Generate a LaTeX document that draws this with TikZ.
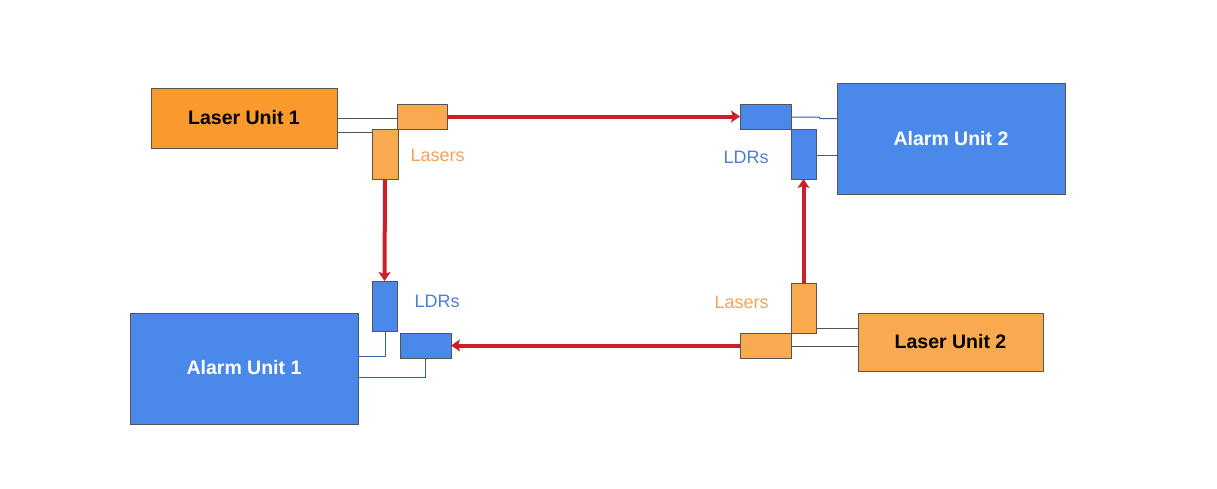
\documentclass[tikz,border=0pt]{standalone}
\usepackage{fontspec}
\setmainfont{Liberation Sans}
\usetikzlibrary{arrows.meta}
\definecolor{bluefill}{HTML}{4A89EA}
\definecolor{unitorange}{HTML}{FB9A2C}
\definecolor{lightorange}{HTML}{F9AA4E}
\definecolor{edgegray}{HTML}{555555}
\definecolor{beamred}{HTML}{CC1F2A}
\definecolor{ldrtext}{HTML}{4A7FD0}
\definecolor{lasertext}{HTML}{F4A25A}
\tikzset{
  box/.style={draw=edgegray, line width=0.8pt},
  bluebox/.style={box, fill=bluefill},
  orangebox/.style={box, fill=unitorange},
  lorangebox/.style={box, fill=lightorange},
  beam/.style={draw=beamred, line width=4pt, -{Stealth[length=9pt,width=12pt,inset=2pt]}},
  wire/.style={draw=edgegray, line width=0.8pt},
  bwire/.style={draw=bluefill!70!black, line width=1pt},
  unittext/.style={font=\bfseries\fontsize{19.5}{22}\selectfont},
  lbl/.style={font=\fontsize{18}{20}\selectfont, anchor=west},
}
\begin{document}
\begin{tikzpicture}[x=1pt,y=-1pt]
\useasboundingbox (0,0) rectangle (1217,488);
% Laser unit 1 group
\path[orangebox] (151,88) rectangle (337,148);
\node[unittext, text=black] (lu1) at (244,118) {Laser Unit 1};
\path[lorangebox] (397,104) rectangle (447,129);
\coordinate (l1h) at (447,116.5);
\path[lorangebox] (372,129) rectangle (398,179);
\coordinate (l1v) at (385,179);
\draw[wire] (337,118) -- (397,118);
\draw[wire] (337,132) -- (372,132);
\node[lbl, text=lasertext] (las1) at (407,155) {Lasers};
% Alarm unit 2 group
\path[bluebox] (837,83) rectangle (1065,194);
\node[unittext, text=white] (au2) at (951,139) {Alarm Unit 2};
\path[bluebox] (740,104) rectangle (791,129);
\coordinate (d2h) at (740,116.5);
\path[bluebox] (791,129) rectangle (816,179);
\coordinate (d2v) at (803.5,179);
\draw[bwire] (791,117) -- (819,117) -- (820,118.5) -- (837,118.5);
\draw[bwire] (816,155) -- (837,155);
\node[lbl, text=ldrtext] (ldr2) at (720,157) {LDRs};
% Alarm unit 1 group
\path[bluebox] (130,313) rectangle (358,424);
\node[unittext, text=white] (au1) at (244,368) {Alarm Unit 1};
\path[bluebox] (372,281) rectangle (397,331);
\coordinate (d1v) at (384.5,281);
\path[bluebox] (400,333) rectangle (451,358);
\coordinate (d1h) at (451,345.5);
\draw[bwire] (385,331) -- (385,356) -- (358,356);
\draw[bwire] (425,358) -- (425,377) -- (358,377);
\node[lbl, text=ldrtext] (ldr1) at (411,301) {LDRs};
% Laser unit 2 group
\path[lorangebox] (858,313) rectangle (1043,371);
\node[unittext, text=black] (lu2) at (950.5,342) {Laser Unit 2};
\path[lorangebox] (791,283) rectangle (816,333);
\coordinate (l2v) at (803.5,283);
\path[lorangebox] (740,333) rectangle (791,358);
\coordinate (l2h) at (740,345.5);
\draw[wire] (816,328) -- (858,328);
\draw[wire] (791,346) -- (858,346);
\node[lbl, text=lasertext] (las2) at (711,302) {Lasers};
% Beams
\draw[beam] (l1h) -- (d2h);
\draw[beam] (l1v) -- (d1v);
\draw[beam] (l2h) -- (d1h);
\draw[beam] (l2v) -- (d2v);
\end{tikzpicture}
\end{document}
